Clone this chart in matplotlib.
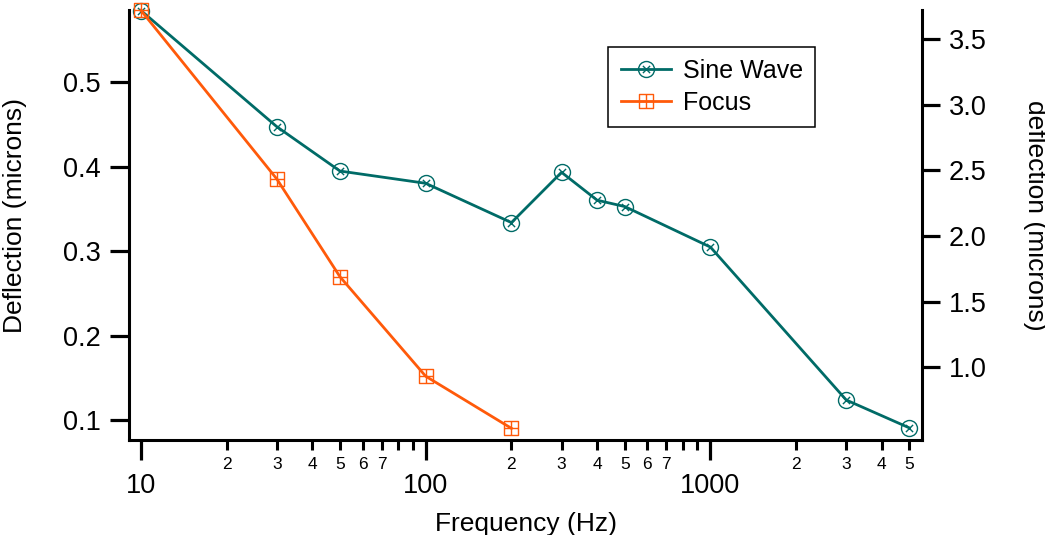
import numpy as np
import matplotlib
matplotlib.use("Agg")
import matplotlib.pyplot as plt
from matplotlib.path import Path
from matplotlib.ticker import FixedLocator, FuncFormatter, LogLocator

plt.rcParams['font.family'] = ['Liberation Sans', 'DejaVu Sans']

# ---- data ----
freq_sine = [10, 30, 50, 100, 200, 300, 400, 500, 1000, 3000, 5000]
sine_wave = [0.585, 0.4475, 0.395, 0.3805, 0.334, 0.3935, 0.3605, 0.353, 0.305, 0.124, 0.091]
freq_focus = [10, 30, 50, 100, 200]
focus = [3.72, 2.435, 1.69, 0.932, 0.535]
left_ticks = [0.1, 0.2, 0.3, 0.4, 0.5]
right_ticks = [1.0, 1.5, 2.0, 2.5, 3.0, 3.5]
x_major = [10, 100, 1000]

teal = '#006b67'
orange = '#ff5a0a'

# ---- marker paths ----
a = 0.45
circle_x = Path.make_compound_path(
    Path.unit_circle(),
    Path([[-a, -a], [a, a]]),
    Path([[-a, a], [a, -a]]),
)
square_plus = Path.make_compound_path(
    Path([[-1, -1], [1, -1], [1, 1], [-1, 1], [-1, -1]],
         [Path.MOVETO, Path.LINETO, Path.LINETO, Path.LINETO, Path.CLOSEPOLY]),
    Path([[-1, 0], [1, 0]]),
    Path([[0, -1], [0, 1]]),
)

W, H = 1045, 535
fig = plt.figure(figsize=(W / 100, H / 100), dpi=100)
L, R, B, T = 129.3, 922, 440, 10
ax = fig.add_axes([L / W, 1 - B / H, (R - L) / W, (B - T) / H])
ax2 = ax.twinx()

l1, = ax.plot(freq_sine, sine_wave, color=teal, lw=2.0, marker=circle_x,
              markersize=11.5, markerfacecolor='none', markeredgecolor=teal,
              markeredgewidth=1.0, clip_on=False, zorder=3, label='Sine Wave')
l2, = ax2.plot(freq_focus, focus, color=orange, lw=2.0, marker=square_plus,
               markersize=10.5, markerfacecolor='none', markeredgecolor=orange,
               markeredgewidth=1.0, clip_on=False, zorder=3, label='Focus')

ax.set_xscale('log')
ax.set_xlim(9.10, 5534)
ax.set_ylim(0.0767, 0.5856)
ax2.set_ylim(0.446, 3.723)

ax.xaxis.set_major_locator(FixedLocator(x_major))
ax.xaxis.set_major_formatter(FuncFormatter(lambda x, p: f"{x:g}"))
ax.xaxis.set_minor_locator(LogLocator(base=10, subs=np.arange(2, 10), numticks=30))


def minor_fmt(x, pos):
    e = np.floor(np.log10(x) + 1e-9)
    m = int(round(x / 10 ** e))
    return str(m) if 2 <= m <= 7 else ''


ax.xaxis.set_minor_formatter(FuncFormatter(minor_fmt))

ax.set_yticks(left_ticks)
ax.yaxis.set_major_formatter(FuncFormatter(lambda y, p: f"{y:.1f}"))
ax2.set_yticks(right_ticks)
ax2.yaxis.set_major_formatter(FuncFormatter(lambda y, p: f"{y:.1f}"))

for s in ['top', 'right']:
    ax.spines[s].set_visible(False)
for s in ['top', 'left', 'bottom']:
    ax2.spines[s].set_visible(False)
ax.spines['left'].set_linewidth(2.2)
ax.spines['bottom'].set_linewidth(2.2)
ax2.spines['right'].set_linewidth(2.2)

ax.tick_params(axis='x', which='major', length=14.5, width=2.3, pad=9.5, labelsize=19.5)
ax.tick_params(axis='x', which='minor', length=7.5, width=2.2, pad=5, labelsize=12.5)
ax.tick_params(axis='y', which='major', length=13.5, width=2.3, pad=7, labelsize=19.5)
ax2.tick_params(axis='y', which='major', length=13, width=2.3, pad=6.5, labelsize=19.5)

ax.set_xlabel('Frequency (Hz)', fontsize=19)
ax.xaxis.set_label_coords(0.5, -0.167)
ax.set_ylabel('Deflection (microns)', fontsize=19)
ax.yaxis.set_label_coords(-0.129, 0.523)
ax2.set_ylabel('deflection (microns)', fontsize=19, rotation=270, va='center')
ax2.yaxis.set_label_coords(1.1426, 0.523)

leg = fig.legend(handles=[l1, l2], loc='upper left',
                 bbox_to_anchor=(608.3 / W, 1 - 46.7 / H), borderaxespad=0,
                 fontsize=18, frameon=True, fancybox=False, edgecolor='black',
                 framealpha=1, handlelength=2.0, handletextpad=0.47,
                 borderpad=0.5, labelspacing=0.3)
leg.get_frame().set_linewidth(1.1)

fig.savefig('out.png', dpi=100)
